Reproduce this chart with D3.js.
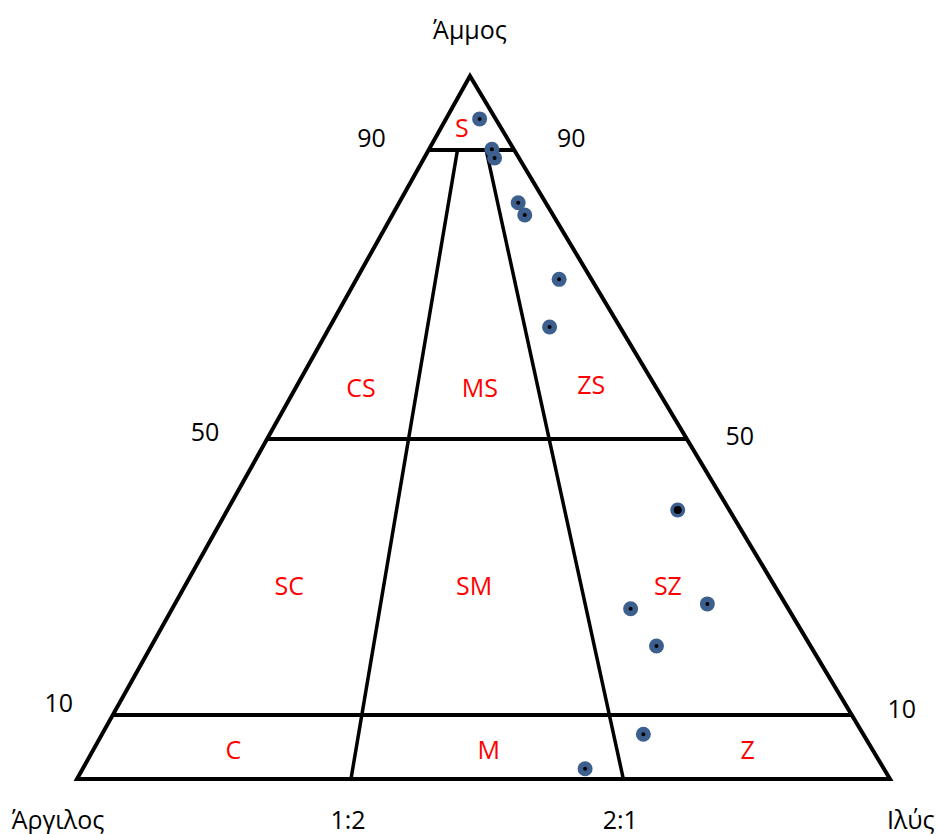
<!DOCTYPE html>
<html>
<head>
<meta charset="utf-8">
<script src="https://cdn.jsdelivr.net/npm/d3@7"></script>
<style>
  body { margin: 0; background: #fff; }
  text { font-family: "Open Sans", sans-serif; font-size: 25px; }
</style>
</head>
<body>
<div id="chart"></div>
<script>
// sample composition, percent (sand + silt + clay = 100)
var sand = [94.2, 90.1, 88.9, 82.7, 81.0, 72.1, 65.5, 39.7, 26.1, 25.4, 20.0, 7.0, 1.6];
var silt = [3.9, 7.3, 8.2, 14.0, 15.6, 24.0, 26.0, 54.0, 64.3, 55.2, 61.0, 65.7, 61.2];
var clay = [1.9, 2.6, 2.9, 3.3, 3.4, 3.9, 8.5, 6.3, 9.6, 19.4, 19.0, 27.3, 37.2];

// class boundaries
var sandBreaks = [10, 50, 90];
var sandTicks = ['10', '50', '90'];
var ratioBreaks = [1 / 3, 2 / 3];          // silt/(silt+clay)
var ratioTicks = ['1:2', '2:1'];
var classNames = ['S', 'CS', 'MS', 'ZS', 'SC', 'SM', 'SZ', 'C', 'M', 'Z'];
var corners = ['Άμμος', 'Άργιλος', 'Ιλύς'];

var width = 938, height = 834;

var svg = d3.select('#chart')
  .append('svg')
  .attr('width', width)
  .attr('height', height);

// triangle corners on the page
var apex = { x: 470, y: 76 }, leftV = { x: 77, y: 779 }, rightV = { x: 890, y: 779 };

// sand % -> y (the drawing is not quite evenly spaced)
var yScale = d3.scaleLinear()
  .domain([0, 10, 50, 90, 100])
  .range([779, 715, 439, 150, 76]);

// silt share -> fraction across the triangle at that height
var fScale = d3.scaleLinear()
  .domain([0, 1 / 3, 2 / 3, 1])
  .range([0, 0.337, 0.672, 1]);

function pos(s, r) {
  var y = yScale(s);
  var t = (y - apex.y) / (leftV.y - apex.y);
  var xl = apex.x + t * (leftV.x - apex.x);
  var xr = apex.x + t * (rightV.x - apex.x);
  return [xl + fScale(r) * (xr - xl), y];
}

var line = d3.line();
var g = svg.append('g');

// outline
g.append('path')
  .attr('d', line([pos(100, 0), pos(0, 0), pos(0, 1)]) + 'Z')
  .attr('fill', 'none')
  .attr('stroke', '#000')
  .attr('stroke-width', 4)
  .attr('stroke-linejoin', 'miter');

// sand lines
g.selectAll('.sandLine')
  .data(sandBreaks)
  .enter()
  .append('path')
  .attr('d', s => line([pos(s, 0), pos(s, 1)]))
  .attr('stroke', '#000')
  .attr('stroke-width', 4);

// silt:clay lines
g.selectAll('.ratioLine')
  .data(ratioBreaks)
  .enter()
  .append('path')
  .attr('d', r => line([pos(0, r), pos(d3.max(sandBreaks), r)]))
  .attr('stroke', '#000')
  .attr('stroke-width', 3.5);

// class labels (sand, silt share) placed in each field
var labelSpots = [[93, 0.345], [57, 0.18], [57, 0.506], [57.5, 0.82],
  [28.7, 0.175], [28.7, 0.486], [28.7, 0.816], [4.5, 0.178], [4.5, 0.503], [4.5, 0.837]];

g.selectAll('.classText')
  .data(classNames)
  .enter()
  .append('text')
  .attr('x', (d, i) => pos(labelSpots[i][0], labelSpots[i][1])[0])
  .attr('y', (d, i) => pos(labelSpots[i][0], labelSpots[i][1])[1])
  .attr('dy', '0.35em')
  .attr('text-anchor', 'middle')
  .attr('fill', '#ff0000')
  .text(d => d);

// sand ticks on both sides, nudged like the original drawing
var leftNudge = [[-54, -12], [-62, -7], [-57, -12]];
var rightNudge = [[50, -6], [53, -3], [57, -12]];
sandBreaks.forEach(function(s, i) {
  g.append('text')
    .attr('x', pos(s, 0)[0] + leftNudge[i][0])
    .attr('y', pos(s, 0)[1] + leftNudge[i][1])
    .attr('dy', '0.35em')
    .attr('text-anchor', 'middle')
    .text(sandTicks[i]);
  g.append('text')
    .attr('x', pos(s, 1)[0] + rightNudge[i][0])
    .attr('y', pos(s, 1)[1] + rightNudge[i][1])
    .attr('dy', '0.35em')
    .attr('text-anchor', 'middle')
    .text(sandTicks[i]);
});

// ratio ticks under the base
ratioBreaks.forEach(function(r, i) {
  g.append('text')
    .attr('x', pos(0, r)[0] - 3)
    .attr('y', pos(0, r)[1] + 50)
    .attr('text-anchor', 'middle')
    .text(ratioTicks[i]);
});

// corner names
g.append('text')
  .attr('x', apex.x).attr('y', apex.y - 37)
  .attr('text-anchor', 'middle')
  .text(corners[0]);
g.append('text')
  .attr('x', leftV.x - 19).attr('y', leftV.y + 50)
  .attr('text-anchor', 'middle')
  .text(corners[1]);
g.append('text')
  .attr('x', rightV.x - 3).attr('y', rightV.y + 50)
  .attr('text-anchor', 'start')
  .text(corners[2]);

// sample points
var pts = sand.map((s, i) => pos(s, silt[i] / (silt[i] + clay[i])));

g.selectAll('.pt')
  .data(pts)
  .enter()
  .append('circle')
  .attr('cx', d => d[0])
  .attr('cy', d => d[1])
  .attr('r', 7.5)
  .attr('fill', '#3d5f8e');

// one sample has a heavier centre mark
g.selectAll('.dot')
  .data(pts)
  .enter()
  .append('circle')
  .attr('cx', d => d[0])
  .attr('cy', d => d[1])
  .attr('r', (d, i) => i == 7 ? 4 : 2)
  .attr('fill', '#000');
</script>
</body>
</html>
